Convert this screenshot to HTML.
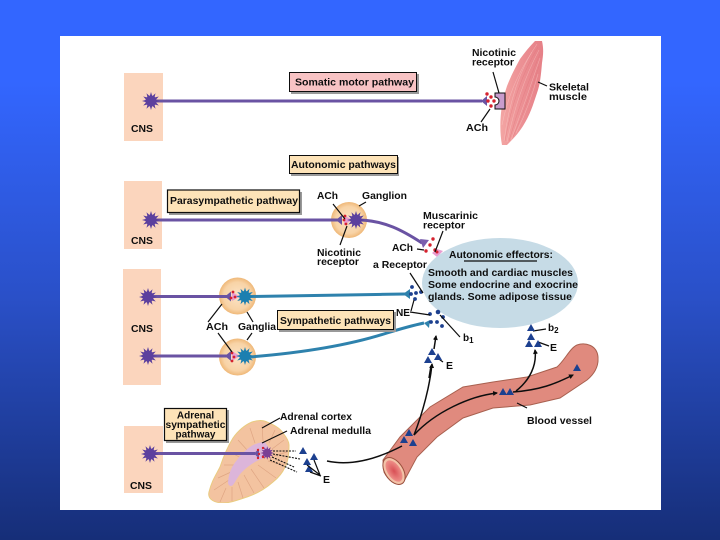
<!DOCTYPE html>
<html><head><meta charset="utf-8"><style>
html,body{margin:0;padding:0;width:720px;height:540px;overflow:hidden}
svg{display:block}
text{font-family:"Liberation Sans",sans-serif;font-weight:bold;font-size:10px;fill:#111}
.l{stroke:#111;stroke-width:1.2;fill:none}
.k{stroke:#111;stroke-width:1.5;fill:none}
.p{stroke:#6a52a3;stroke-width:3;fill:none}
.b{stroke:#2f82ad;stroke-width:3;fill:none}
.r{fill:#d5202e}.n{fill:#1f3f8f}
</style></head><body>
<svg width="720" height="540" viewBox="0 0 720 540" xmlns="http://www.w3.org/2000/svg">
<defs>
<linearGradient id="bg" x1="0" y1="0" x2="0" y2="1"><stop offset="0" stop-color="#3366ff"/><stop offset=".15" stop-color="#3366ff"/><stop offset=".55" stop-color="#2a50c8"/><stop offset="1" stop-color="#162e78"/></linearGradient>
<radialGradient id="g"><stop offset="0" stop-color="#fbe3c6"/><stop offset=".75" stop-color="#f8d3a6"/><stop offset="1" stop-color="#efb878"/></radialGradient>
<linearGradient id="m" x1="0" y1="0" x2="1" y2="0"><stop offset="0" stop-color="#f3a5a3"/><stop offset=".5" stop-color="#ec9094"/><stop offset="1" stop-color="#e68087"/></linearGradient>
<radialGradient id="lum"><stop offset="0" stop-color="#d84f55"/><stop offset="1" stop-color="#ee8f88"/></radialGradient>
<marker id="a" markerWidth="6" markerHeight="6" refX="4" refY="3" orient="auto" markerUnits="userSpaceOnUse"><path d="M0,0.5L5,3L0,5.500Z" fill="#111"/></marker>
<g id="s"><polygon points="9,0 4.8,1.3 7.8,4.5 3.5,3.5 4.5,7.8 1.3,4.8 0,9 -1.3,4.8 -4.5,7.8 -3.5,3.5 -7.8,4.5 -4.8,1.3 -9,0 -4.8,-1.3 -7.8,-4.5 -3.5,-3.5 -4.5,-7.8 -1.3,-4.8 0,-9 1.3,-4.8 4.5,-7.8 3.5,-3.5 7.8,-4.5 4.8,-1.3"/><circle r="5.5"/></g>
<polygon id="t" points="0,-4 4,3 -4,3"/>
<filter id="soft" x="0" y="0" width="100%" height="100%"><feGaussianBlur stdDeviation="0.35"/></filter>
</defs>
<rect width="720" height="540" fill="url(#bg)"/>
<rect x="60" y="36" width="601" height="474" fill="#fff"/>
<g filter="url(#soft)">

<!-- CNS boxes -->
<g fill="#fbd5bd">
<rect x="124" y="73" width="39" height="68"/>
<rect x="124" y="181" width="38" height="68"/>
<rect x="123" y="269" width="38" height="116"/>
<rect x="124" y="426" width="39" height="67"/>
</g>

<!-- Muscle -->
<path d="M535,41L542,41C544,50 543,56 542,63C541,75 540,85 537,93C533,105 530,115 523,126C518,134 512,140 507,145H502C500,135 500,123 501,113C502,103 504,95 507,86C511,76 515,68 520,59C525,52 530,46 535,41Z" fill="url(#m)"/>
<g stroke="#fbd3d0" stroke-width=".5" stroke-opacity=".55" fill="none">
<path d="M537,44Q512,80 504,141"/><path d="M539,50Q518,90 507,142"/><path d="M540,58Q526,100 511,140"/><path d="M538,74Q530,105 516,133"/><path d="M532,52Q510,85 502,125"/>
</g>
<g stroke="#df7379" stroke-width=".5" stroke-opacity=".6" fill="none">
<path d="M538,47Q515,85 505,141"/><path d="M540,54Q522,95 509,141"/><path d="M539,66Q528,103 513,137"/>
</g>

<!-- Somatic -->
<path class="p" d="M150,101H482"/>
<use href="#s" x="151" y="101" fill="#5b3f9e"/>
<polygon points="481,101 487,96 487,106" fill="#6a52a3"/>
<path d="M495,93H505V109H495V105A4,4 0 0 0 495,97Z" fill="#c89ccc" stroke="#111" stroke-width="1"/>
<g class="r"><circle cx="487" cy="94" r="1.7"/><circle cx="491" cy="97" r="1.7"/><circle cx="488" cy="101" r="1.7"/><circle cx="494" cy="101" r="1.7"/><circle cx="491" cy="106" r="1.7"/></g>
<path class="l" d="M493,72L499,93M490,109L481,122M538,82L547,86"/>
<rect x="291" y="74" width="128" height="20" fill="#999"/>
<rect x="289.500" y="72.500" width="127" height="19" fill="#f8c3c4" stroke="#111"/>
<text x="295" y="85.500" textLength="119" lengthAdjust="spacingAndGlyphs">Somatic motor pathway</text>
<text x="472" y="56" textLength="44" lengthAdjust="spacingAndGlyphs">Nicotinic</text>
<text x="472" y="65.500" textLength="42" lengthAdjust="spacingAndGlyphs">receptor</text>
<text x="549" y="90.500" textLength="40" lengthAdjust="spacingAndGlyphs">Skeletal</text>
<text x="549" y="100" textLength="38" lengthAdjust="spacingAndGlyphs">muscle</text>
<text x="466" y="131" textLength="22" lengthAdjust="spacingAndGlyphs">ACh</text>
<text x="131" y="132" textLength="22" lengthAdjust="spacingAndGlyphs">CNS</text>

<!-- Autonomic label -->
<rect x="291" y="157" width="108" height="19" fill="#999"/>
<rect x="289.500" y="155.500" width="108" height="18" fill="#fde3b8" stroke="#111"/>
<text x="291" y="168" textLength="105" lengthAdjust="spacingAndGlyphs">Autonomic pathways</text>

<!-- Parasympathetic -->
<circle cx="349" cy="220" r="18" fill="url(#g)"/>
<path class="p" d="M150,220H339"/>
<path class="p" d="M360,220C385,221 402,230 422,243" stroke-width="2.500"/>
<use href="#s" x="151" y="220" fill="#5b3f9e"/>
<polygon points="336,220 342,215 342,225" fill="#6a52a3"/>
<polygon points="344,215 352,220 344,225" fill="#e79cd0"/>
<use href="#s" x="356" y="220" fill="#5b3f9e"/>
<g class="r"><circle cx="345" cy="216" r="1.400"/><circle cx="344" cy="220" r="1.400"/><circle cx="346" cy="224" r="1.400"/></g>
<polygon points="420,239 429,240 423,248" fill="#7a5fae"/>
<polygon points="432,253 437,249 443,251 437,257" fill="#e79cd0"/>
<g class="r"><circle cx="433" cy="239" r="1.700"/><circle cx="430" cy="245" r="1.700"/><circle cx="426" cy="251" r="1.700"/><circle cx="435" cy="250" r="1.700"/><circle cx="437" cy="252" r="1.500"/></g>
<path class="l" d="M333,204L345,219M347,226L340,245M366,202L359,206M443,231L435,252M417,249L424,250"/>
<rect x="169" y="192" width="133" height="23" fill="#999"/>
<rect x="167.500" y="190" width="132" height="22.500" fill="#fde3b8" stroke="#111" stroke-width="1.200"/>
<text x="170" y="204" textLength="128" lengthAdjust="spacingAndGlyphs">Parasympathetic pathway</text>
<text x="317" y="199" textLength="21" lengthAdjust="spacingAndGlyphs">ACh</text>
<text x="362" y="199" textLength="45" lengthAdjust="spacingAndGlyphs">Ganglion</text>
<text x="317" y="256" textLength="44" lengthAdjust="spacingAndGlyphs">Nicotinic</text>
<text x="317" y="265" textLength="42" lengthAdjust="spacingAndGlyphs">receptor</text>
<text x="131" y="244" textLength="22" lengthAdjust="spacingAndGlyphs">CNS</text>
<text x="423" y="219" textLength="55" lengthAdjust="spacingAndGlyphs">Muscarinic</text>
<text x="423" y="228.500" textLength="42" lengthAdjust="spacingAndGlyphs">receptor</text>
<text x="392" y="251" textLength="21" lengthAdjust="spacingAndGlyphs">ACh</text>
<text x="373" y="268" textLength="54" lengthAdjust="spacingAndGlyphs">a Receptor</text>

<!-- Effectors -->
<ellipse cx="500" cy="283" rx="78" ry="45" fill="#c6dbe6"/>
<text x="449" y="258" textLength="104" lengthAdjust="spacingAndGlyphs">Autonomic effectors:</text>
<path d="M464,261H537" stroke="#111" stroke-width="1.200"/>
<text x="428" y="276" textLength="145" lengthAdjust="spacingAndGlyphs">Smooth and cardiac muscles</text>
<text x="428" y="288" textLength="150" lengthAdjust="spacingAndGlyphs">Some endocrine and exocrine</text>
<text x="428" y="300" textLength="144" lengthAdjust="spacingAndGlyphs">glands. Some adipose tissue</text>

<!-- Sympathetic -->
<circle cx="237.500" cy="296" r="18.500" fill="url(#g)"/>
<circle cx="237.500" cy="357" r="18.500" fill="url(#g)"/>
<path class="p" d="M150,296.500H228M150,356H228"/>
<path class="b" d="M250,296.500L405,294"/>
<path class="b" d="M250,357C300,353 350,345 387,333C400,329 410,326 424,323"/>
<use href="#s" x="148" y="297" fill="#5b3f9e"/>
<use href="#s" x="148" y="356" fill="#5b3f9e"/>
<polygon points="225,296.500 231,291.500 231,301.500" fill="#6a52a3"/>
<polygon points="225,356 231,351 231,361" fill="#6a52a3"/>
<polygon points="232,292 240,296.500 232,301" fill="#e79cd0"/>
<polygon points="232,351 240,356 232,361" fill="#e79cd0"/>
<use href="#s" x="245" y="296.500" fill="#1f7fb0"/>
<use href="#s" x="245" y="356" fill="#1f7fb0"/>
<g class="r"><circle cx="233" cy="292" r="1.400"/><circle cx="235" cy="297" r="1.400"/><circle cx="231" cy="298" r="1.400"/><circle cx="232" cy="353" r="1.400"/><circle cx="234" cy="357" r="1.400"/><circle cx="232" cy="361" r="1.400"/></g>
<polygon points="403,294 410,289 410,299" fill="#2f82ad"/>
<polygon points="424,323 430,320 429,328" fill="#2f82ad"/>
<g class="n"><circle cx="412" cy="287" r="1.900"/><circle cx="416" cy="293" r="1.900"/><circle cx="411" cy="294" r="1.900"/><circle cx="421" cy="292" r="1.900"/><circle cx="415" cy="299" r="1.900"/>
<circle cx="430" cy="314" r="1.900"/><circle cx="438" cy="312" r="2.300"/><circle cx="443" cy="317" r="1.900"/><circle cx="431" cy="322" r="1.900"/><circle cx="437" cy="322" r="1.900"/><circle cx="442" cy="326" r="1.900"/></g>
<path class="l" d="M410,273L423,293M414,300L411,311M410,312L430,315M440,315L460,337M222,304L208,322M218,333L232,352M247,312L253,322M252,333L247,340"/>
<rect x="279" y="312" width="117" height="20" fill="#999"/>
<rect x="277.500" y="310.500" width="116" height="19" fill="#fde3b8" stroke="#111"/>
<text x="280" y="324" textLength="111" lengthAdjust="spacingAndGlyphs">Sympathetic pathways</text>
<text x="396" y="316" textLength="14" lengthAdjust="spacingAndGlyphs">NE</text>
<text x="131" y="332" textLength="22" lengthAdjust="spacingAndGlyphs">CNS</text>
<text x="206" y="330" textLength="22" lengthAdjust="spacingAndGlyphs">ACh</text>
<text x="238" y="330" textLength="38" lengthAdjust="spacingAndGlyphs">Ganglia</text>
<text x="463" y="341">b<tspan font-size="8" dy="2">1</tspan></text>
<text x="548" y="331">b<tspan font-size="8" dy="2">2</tspan></text>

<!-- Blood vessel -->
<path d="M383,460L400,437L430,407L463,387L493,382L527,377L557,367C565,360 570,348 577,345C585,342 597,345 598,357C599,368 593,375 587,380L560,398L530,405L493,408L463,418L437,437L417,457L403,483C396,487 388,480 384,472Z" fill="#e08a7e" stroke="#a8604f" stroke-width="1"/>
<ellipse cx="394" cy="471" rx="9" ry="15" transform="rotate(-33 394 471)" fill="#f3c3a8" stroke="#9a4f3e" stroke-width="1"/>
<ellipse cx="394" cy="471" rx="6.500" ry="12" transform="rotate(-33 394 471)" fill="url(#lum)"/>
<path class="k" d="M327,461C350,466 375,460 402,446"/>
<path class="k" d="M414,435C423,412 430,385 432,364" marker-end="url(#a)"/>
<path class="k" d="M414,435C435,412 470,396 497,393" marker-end="url(#a)"/>
<path class="k" d="M513,392C540,390 555,384 573,375" marker-end="url(#a)"/>
<path class="k" d="M516,391C530,380 537,365 535,350" marker-end="url(#a)"/>
<path class="k" d="M431,366L429,378"/>
<path class="k" d="M434,349L436,336" marker-end="url(#a)"/>
<path class="l" d="M443,362L436,357M549,346L538,342M546,329L533,331M527,408L517,403"/>
<g class="n">
<use href="#t" x="409" y="433"/><use href="#t" x="404" y="440"/><use href="#t" x="413" y="443"/>
<use href="#t" x="503" y="392"/><use href="#t" x="510" y="392"/><use href="#t" x="577" y="368"/>
<use href="#t" x="432" y="352"/><use href="#t" x="428" y="360"/><use href="#t" x="438" y="357"/>
<use href="#t" x="529" y="344"/><use href="#t" x="538" y="344"/><use href="#t" x="531" y="337"/><use href="#t" x="531" y="328"/>
<use href="#t" x="303" y="451"/><use href="#t" x="314" y="457"/><use href="#t" x="307" y="462"/><use href="#t" x="309" y="469"/>
</g>
<text x="446" y="369" textLength="7" lengthAdjust="spacingAndGlyphs">E</text>
<text x="550" y="351" textLength="7" lengthAdjust="spacingAndGlyphs">E</text>
<text x="527" y="424" textLength="65" lengthAdjust="spacingAndGlyphs">Blood vessel</text>

<!-- Adrenal -->
<path d="M209,492C212,480 216,475 220,467C224,455 228,446 233,438C238,431 245,425 252,422C258,420 263,420 267,422C274,425 280,428 283,433C287,438 289,442 289,445C289,455 288,462 285,467C282,474 278,478 273,482C265,489 256,494 247,497C238,500 230,503 223,503C216,503 207,500 209,492Z" fill="#f3c3a0" stroke="#e9cc80" stroke-width="1"/>
<g stroke="#dfa583" stroke-width=".7" fill="none">
<path d="M214,490L229,480M218,478L231,472M224,465L235,465M230,452L241,458M238,440L248,451M250,428L255,443M262,425L263,441M275,430L269,443M284,440L272,449M287,452L274,456M284,465L268,461M276,478L258,465M264,488L251,469M254,493L244,475M243,498L238,482M232,501L232,487M220,502L226,488"/>
</g>
<path d="M228,482C229,472 232,466 237,460C242,453 248,448 253,445C258,443 262,442 265,442L272,453C266,458 260,459 255,462C250,465 246,468 242,472C238,476 236,481 233,485C231,487 228,486 228,482Z" fill="#dcb5da"/>
<path class="p" d="M150,453.500H255" stroke-width="3.500"/>
<use href="#s" x="150" y="454" fill="#5b3f9e"/>
<polygon points="254,453.500 259,448.500 259,458.500" fill="#6a52a3"/>
<use href="#s" x="267" y="453" fill="#7a3f95" transform="translate(67 113.250) scale(.75)"/>
<g class="r"><circle cx="258" cy="450" r="1.200"/><circle cx="263" cy="448" r="1.200"/><circle cx="259" cy="454" r="1.200"/><circle cx="263" cy="457" r="1.200"/><circle cx="258" cy="458" r="1.200"/></g>
<path d="M273,451L296,451M273,454L300,459M272,457L294,467M270,460L297,472" stroke="#111" stroke-width="1.100" stroke-dasharray="2 1.200" fill="none"/>
<path class="l" d="M262,428L280,418M262,443L287,431M320,475L314,460M320,475L307,465M321,476L310,472"/>
<rect x="166" y="410" width="63" height="33" fill="#999"/>
<rect x="164.500" y="408.500" width="62" height="32" fill="#fde3b8" stroke="#111" stroke-width="1.200"/>
<text x="195.500" y="418.500" text-anchor="middle">Adrenal</text>
<text x="195.500" y="428" text-anchor="middle" textLength="60" lengthAdjust="spacingAndGlyphs">sympathetic</text>
<text x="195.500" y="437.500" text-anchor="middle">pathway</text>
<text x="280" y="420" textLength="72" lengthAdjust="spacingAndGlyphs">Adrenal cortex</text>
<text x="290" y="434" textLength="81" lengthAdjust="spacingAndGlyphs">Adrenal medulla</text>
<text x="323" y="483" textLength="7" lengthAdjust="spacingAndGlyphs">E</text>
<text x="130" y="489" textLength="22" lengthAdjust="spacingAndGlyphs">CNS</text>
</g>
</svg>
</body></html>
